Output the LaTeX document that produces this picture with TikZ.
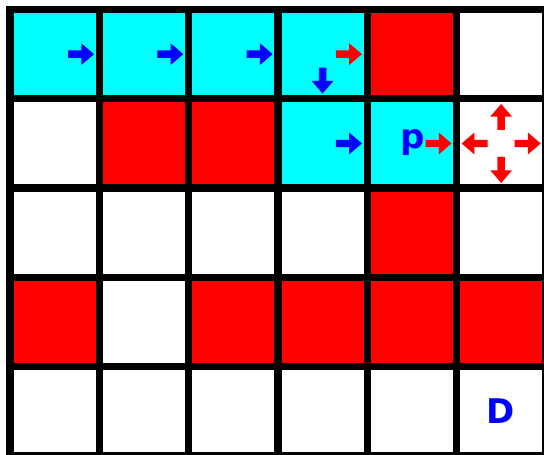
\documentclass[tikz,border=0pt]{standalone}
\usepackage{fontspec}
\setmainfont{DejaVu Sans}
\definecolor{aqua}{RGB}{0,255,255}
\definecolor{pure red}{RGB}{255,0,0}
\definecolor{pure blue}{RGB}{0,0,255}
\begin{document}
\begin{tikzpicture}[x=1pt,y=-1pt,
  % block arrow pointing along +x, tail at the origin
  blk/.pic={\fill (0,-3.7) -- (13.3,-3.7) -- (13.3,-10.9) -- (26,0) -- (13.3,10.9) -- (13.3,3.7) -- (0,3.7) -- cycle;},
  lbl/.style={text=pure blue,font=\fontsize{34}{34}\selectfont\bfseries,inner sep=0pt,anchor=base},
  gridline/.style={line width=7.3pt,line cap=rect,black}]
\useasboundingbox (0,0) rectangle (544,455);
\clip (0,0) rectangle (544,455);
\fill[white] (0,0) rectangle (544,455);
\def\s{89.3}
% coloured cells: column/row/colour
\foreach \i/\j/\c in {0/0/aqua,1/0/aqua,2/0/aqua,3/0/aqua,4/0/pure red,
                      1/1/pure red,2/1/pure red,3/1/aqua,4/1/aqua,
                      4/2/pure red,
                      0/3/pure red,2/3/pure red,3/3/pure red,4/3/pure red,5/3/pure red}
  \fill[\c] ({10+\i*\s},{9.5+\j*\s}) rectangle ++(\s,\s);
% grid
\foreach \i in {0,...,6}
  \draw[gridline] ({10+\i*\s},9.5) -- ({10+\i*\s},{9.5+5*\s});
\foreach \j in {0,...,5}
  \draw[gridline] (10,{9.5+\j*\s}) -- ({10+6*\s},{9.5+\j*\s});
% moves along the path
\foreach \i in {0,1,2}
  \pic[pure blue] at ({10+(\i+1)*\s-5.3-26},{9.5+0.5*\s}) {blk};
\pic[pure red] at ({10+4*\s-5.3-26},{9.5+0.5*\s}) {blk};
\pic[pure blue,rotate=-90] at ({10+3.5*\s},{9.5+\s-5.2-26}) {blk};
\pic[pure blue] at ({10+4*\s-5.3-26},{9.5+1.5*\s}) {blk};
\pic[pure red] at ({10+5*\s-5-26},{9.5+1.5*\s}) {blk};
% four neighbours of the next cell
\pic[pure red] at ({10+5.5*\s+13.5},{9.5+1.5*\s}) {blk};
\pic[pure red,rotate=180] at ({10+5.5*\s-13.5},{9.5+1.5*\s}) {blk};
\pic[pure red,rotate=90] at ({10+5.5*\s},{9.5+1.5*\s-13.5}) {blk};
\pic[pure red,rotate=-90] at ({10+5.5*\s},{9.5+1.5*\s+13.5}) {blk};
% labels
\node[lbl] (p) at (412.5,148.6) {p};
\node[lbl] (D) at (501,423) {D};
\end{tikzpicture}
\end{document}
